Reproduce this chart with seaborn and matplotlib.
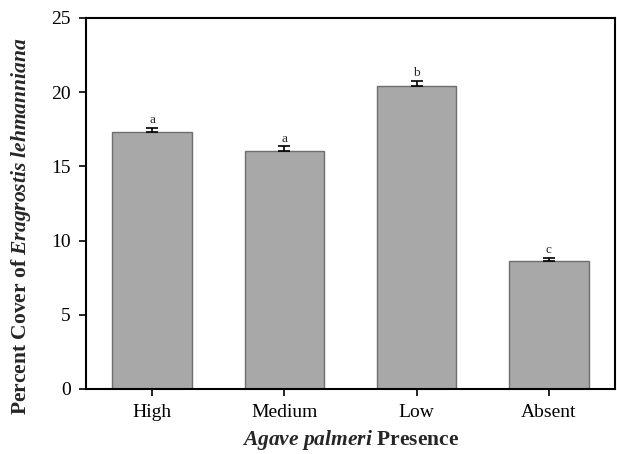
import numpy as np
import pandas as pd
import matplotlib
matplotlib.use("Agg")
import matplotlib.pyplot as plt
import seaborn as sns

# data
categories = ["High", "Medium", "Low", "Absent"]
cover_mean = [17.3, 16.05, 20.4, 8.6]
cover_se = [0.3, 0.3, 0.35, 0.25]
group_letters = ["a", "a", "b", "c"]


def main():
    sns.set_style("white")
    plt.rcParams["font.family"] = ["Liberation Serif", "DejaVu Serif"]
    plt.rcParams["mathtext.fontset"] = "custom"
    plt.rcParams["mathtext.rm"] = "Liberation Serif"
    plt.rcParams["mathtext.it"] = "Liberation Serif:italic"
    plt.rcParams["mathtext.bf"] = "Liberation Serif:bold"
    plt.rcParams["mathtext.bfit"] = "Liberation Serif:italic:bold"

    df = pd.DataFrame({"Presence": categories, "Cover": cover_mean})

    fig = plt.figure(figsize=(6.17, 4.54), dpi=100)
    ax = fig.add_axes([0.1394, 0.1432, 0.8574, 0.8172])

    sns.barplot(data=df, x="Presence", y="Cover", color="#a8a8a8",
                saturation=1, width=0.6, edgecolor="#6e6e6e", linewidth=1.0,
                errorbar=None, ax=ax)

    # upper-only error bars
    xpos = np.arange(len(categories))
    ax.errorbar(xpos, cover_mean, yerr=[np.zeros(len(cover_se)), cover_se],
                fmt="none", ecolor="black", elinewidth=1.2, capsize=4.5,
                capthick=1.2)

    for x, m, e, lab in zip(xpos, cover_mean, cover_se, group_letters):
        ax.text(x, m + e + 0.12, lab, ha="center", va="bottom", fontsize=9.5)

    ax.set_xlim(-0.5, 3.5)
    ax.set_ylim(0, 25)
    ax.set_yticks([0, 5, 10, 15, 20, 25])

    for side in ["left", "right", "top", "bottom"]:
        ax.spines[side].set_visible(True)
        ax.spines[side].set_color("black")
        ax.spines[side].set_linewidth(1.5)

    ax.tick_params(axis="both", direction="out", length=5, width=1.2,
                   labelsize=14, colors="black", left=True, bottom=True)
    ax.tick_params(axis="y", pad=6)
    ax.tick_params(axis="x", pad=6)

    ax.set_xlabel(r"$\mathbfit{Agave\ palmeri}$ Presence", fontsize=15.5,
                  fontweight="bold", labelpad=5)
    ax.set_ylabel(r"Percent Cover of $\mathbfit{Eragrostis\ lehmanniana}$",
                  fontsize=15.5, fontweight="bold")
    ax.yaxis.set_label_coords(-0.1, 0.44)

    fig.savefig("out.png", dpi=100)
    plt.close(fig)


if __name__ == "__main__":
    main()
